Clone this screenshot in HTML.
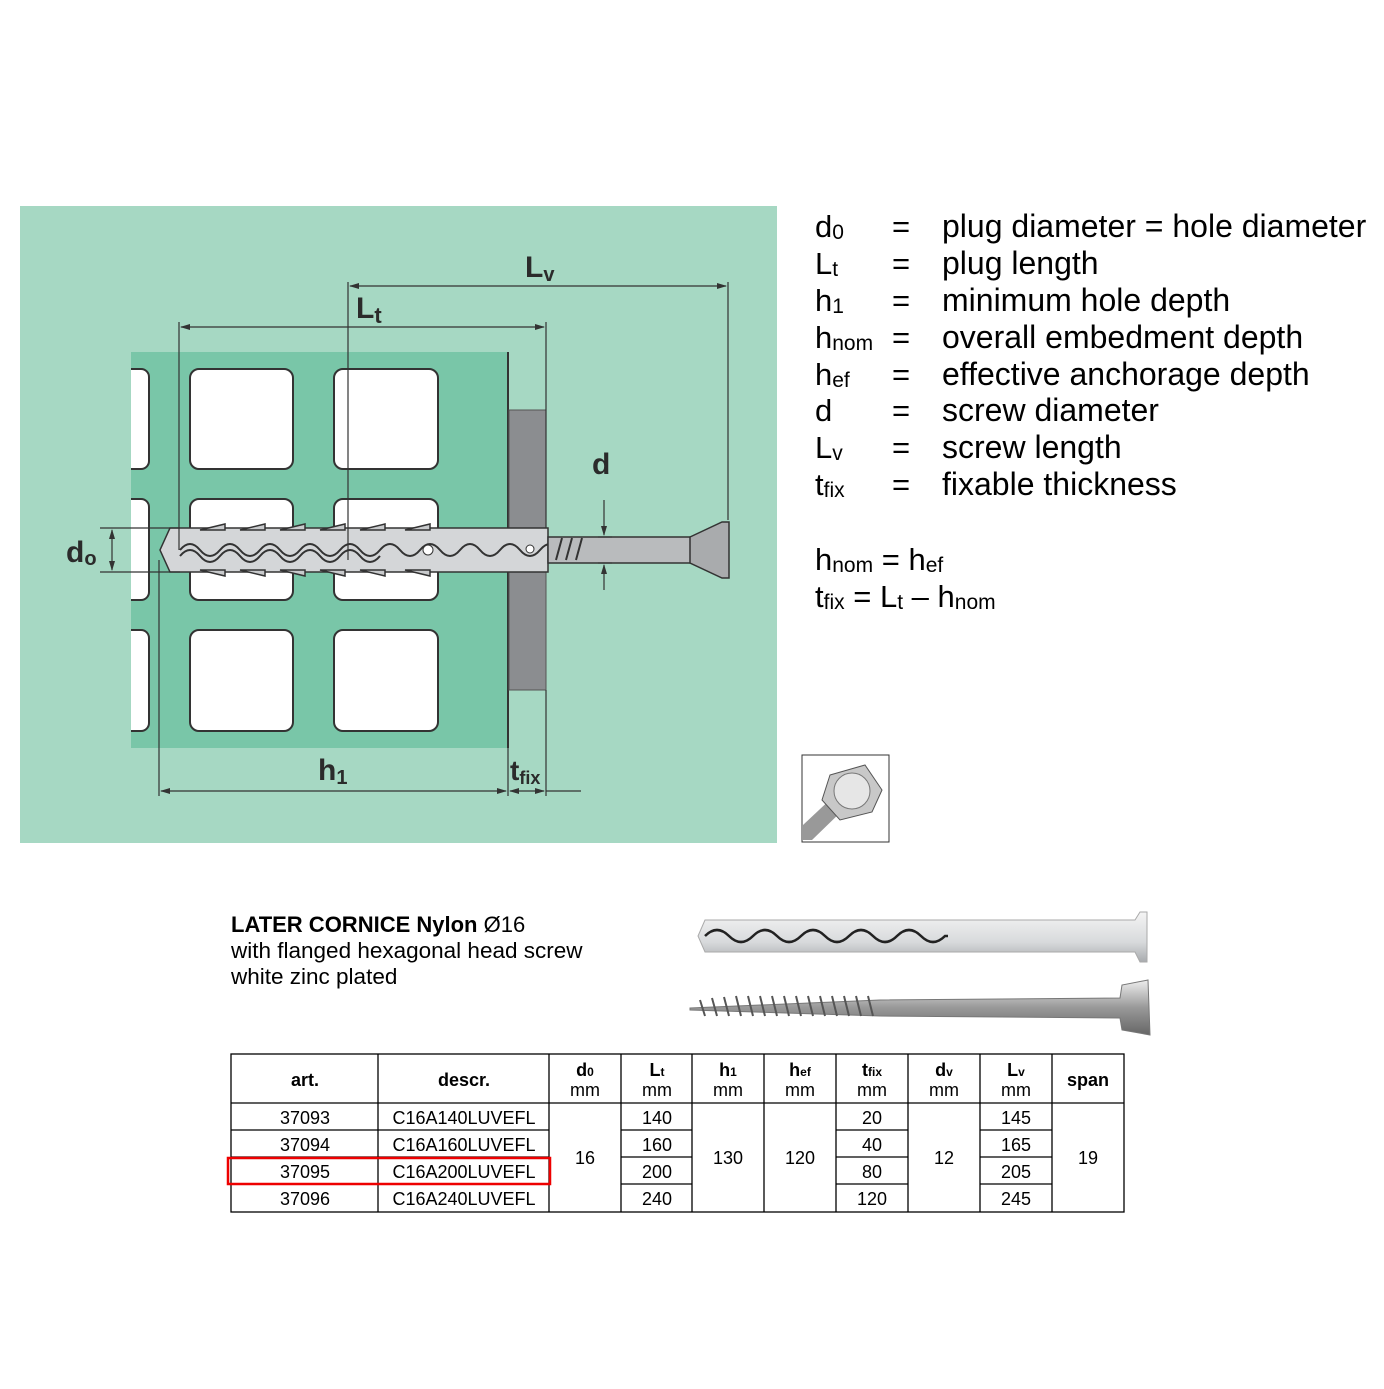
<!DOCTYPE html>
<html><head><meta charset="utf-8"><style>
body{margin:0;background:#fff;width:1384px;height:1384px;overflow:hidden;font-family:"Liberation Sans",sans-serif}
svg text{font-family:"Liberation Sans",sans-serif}
</style></head><body>
<svg width="1384" height="1384" viewBox="0 0 1384 1384" xmlns="http://www.w3.org/2000/svg">
<defs>
<marker id="a" markerWidth="10" markerHeight="8" refX="9" refY="4" orient="auto-start-reverse" markerUnits="userSpaceOnUse"><path d="M0,1 L10,4 L0,7 z" fill="#333"/></marker>
<linearGradient id="sg" x1="0" y1="0" x2="0" y2="1"><stop offset="0" stop-color="#eee"/><stop offset=".5" stop-color="#999"/><stop offset="1" stop-color="#666"/></linearGradient>
<linearGradient id="pg" x1="0" y1="0" x2="0" y2="1"><stop offset="0" stop-color="#f4f4f4"/><stop offset=".6" stop-color="#d8dadc"/><stop offset="1" stop-color="#a8abae"/></linearGradient>
</defs>
<rect x="20" y="206" width="757" height="637" fill="#a6d8c3"/>
<rect x="131" y="352" width="377" height="396" fill="#79c6a8"/>
<g fill="#fff" stroke="#333" stroke-width="2">
<rect x="190" y="369" width="103" height="100" rx="9"/><rect x="334" y="369" width="104" height="100" rx="9"/>
<rect x="190" y="499" width="103" height="101" rx="9"/><rect x="334" y="499" width="104" height="101" rx="9"/>
<rect x="190" y="630" width="103" height="101" rx="9"/><rect x="334" y="630" width="104" height="101" rx="9"/>
<path d="M131,369 h10 a8,8 0 0 1 8,8 v84 a8,8 0 0 1 -8,8 h-10"/>
<path d="M131,499 h10 a8,8 0 0 1 8,8 v85 a8,8 0 0 1 -8,8 h-10"/>
<path d="M131,630 h10 a8,8 0 0 1 8,8 v85 a8,8 0 0 1 -8,8 h-10"/>
</g>
<line x1="508" y1="352" x2="508" y2="748" stroke="#333" stroke-width="2"/>
<rect x="509" y="410" width="37" height="280" fill="#8b8d90" stroke="#555"/>
<path d="M170,528 L548,528 L548,572 L170,572 L160,550 z" fill="#d4d6d8" stroke="#333" stroke-width="1.5"/>
<path d="M180,550 q10,-12 20,0 t20,0 t20,0 t20,0 t20,0 t20,0 t20,0 t20,0 t20,0 t20,0 t20,0 t20,0 t20,0 t20,0 t20,0 t20,0 t20,0 t20,0 t20,0 t20,0" fill="none" stroke="#333" stroke-width="2"/>
<path d="M180,556 q10,-12 20,0 t20,0 t20,0 t20,0 t20,0 t20,0 t20,0 t20,0 t20,0 t20,0" fill="none" stroke="#333" stroke-width="2"/>
<g stroke="#333" stroke-width="1.5" fill="#c8cacc">
<path d="M200,530 l25,-6 v6z"/><path d="M240,530 l25,-6 v6z"/><path d="M280,530 l25,-6 v6z"/><path d="M320,530 l25,-6 v6z"/><path d="M360,530 l25,-6 v6z"/><path d="M405,530 l25,-6 v6z"/>
<path d="M200,570 l25,6 v-6z"/><path d="M240,570 l25,6 v-6z"/><path d="M280,570 l25,6 v-6z"/><path d="M320,570 l25,6 v-6z"/><path d="M360,570 l25,6 v-6z"/><path d="M405,570 l25,6 v-6z"/>
</g>
<circle cx="428" cy="550" r="5" fill="#fff" stroke="#333"/><circle cx="530" cy="549" r="4" fill="#fff" stroke="#333"/>
<rect x="548" y="537" width="175" height="26" fill="#b9bbbd" stroke="#333" stroke-width="1.5"/>
<g stroke="#333" stroke-width="2"><line x1="556" y1="560" x2="562" y2="538"/><line x1="566" y1="560" x2="572" y2="538"/><line x1="576" y1="560" x2="582" y2="538"/></g>
<path d="M690,537 L722,522 L729,522 L729,578 L722,578 L690,563 z" fill="#a9abad" stroke="#333" stroke-width="1.5"/>
<g stroke="#333" stroke-width="1.2" fill="none">
<line x1="348" y1="282" x2="348" y2="560"/><line x1="728" y1="282" x2="728" y2="520"/>
<line x1="350" y1="286" x2="726" y2="286" marker-start="url(#a)" marker-end="url(#a)"/>
<line x1="179" y1="322" x2="179" y2="550"/><line x1="546" y1="322" x2="546" y2="528"/>
<line x1="181" y1="327" x2="544" y2="327" marker-start="url(#a)" marker-end="url(#a)"/>
<line x1="159" y1="560" x2="159" y2="796"/><line x1="508" y1="748" x2="508" y2="796"/><line x1="546" y1="690" x2="546" y2="796"/>
<line x1="161" y1="791" x2="506" y2="791" marker-start="url(#a)" marker-end="url(#a)"/>
<line x1="510" y1="791" x2="544" y2="791" marker-start="url(#a)" marker-end="url(#a)"/>
<line x1="546" y1="791" x2="581" y2="791"/>
<line x1="100" y1="528" x2="180" y2="528"/><line x1="100" y1="572" x2="180" y2="572"/>
<line x1="112" y1="530" x2="112" y2="570" marker-start="url(#a)" marker-end="url(#a)"/>
<line x1="604" y1="500" x2="604" y2="535" marker-end="url(#a)"/><line x1="604" y1="590" x2="604" y2="565" marker-end="url(#a)"/>
<line x1="598" y1="537" x2="612" y2="537"/><line x1="598" y1="563" x2="612" y2="563"/>
</g>
<g fill="#2b2b2b" font-weight="bold" font-size="30">
<text x="525" y="277">L<tspan font-size="20" dy="4">v</tspan></text>
<text x="356" y="318">L<tspan font-size="22" dy="5">t</tspan></text>
<text x="592" y="474">d</text>
<text x="66" y="562">d<tspan font-size="20" dy="3">o</tspan></text>
<text x="318" y="780">h<tspan font-size="20" dy="4">1</tspan></text>
<text x="510" y="780" font-size="28">t<tspan font-size="18" dy="4">fix</tspan></text>
</g>
<g fill="#000" font-size="31">
<text x="815" y="237">d<tspan font-size="21" dy="2">0</tspan></text><text x="892" y="237">=</text><text x="942" y="237" font-size="32">plug diameter = hole diameter</text>
<text x="815" y="274">L<tspan font-size="21" dy="2">t</tspan></text><text x="892" y="274">=</text><text x="942" y="274" font-size="32">plug length</text>
<text x="815" y="311">h<tspan font-size="21" dy="2">1</tspan></text><text x="892" y="311">=</text><text x="942" y="311" font-size="32">minimum hole depth</text>
<text x="815" y="348">h<tspan font-size="21" dy="2">nom</tspan></text><text x="892" y="348">=</text><text x="942" y="348" font-size="32">overall embedment depth</text>
<text x="815" y="385">h<tspan font-size="21" dy="2">ef</tspan></text><text x="892" y="385">=</text><text x="942" y="385" font-size="32">effective anchorage depth</text>
<text x="815" y="421">d</text><text x="892" y="421">=</text><text x="942" y="421" font-size="32">screw diameter</text>
<text x="815" y="458">L<tspan font-size="21" dy="2">v</tspan></text><text x="892" y="458">=</text><text x="942" y="458" font-size="32">screw length</text>
<text x="815" y="495">t<tspan font-size="21" dy="2">fix</tspan></text><text x="892" y="495">=</text><text x="942" y="495" font-size="32">fixable thickness</text>
<text x="815" y="570">h<tspan font-size="21" dy="2">nom</tspan><tspan dy="-2"> = h</tspan><tspan font-size="21" dy="2">ef</tspan></text>
<text x="815" y="607">t<tspan font-size="21" dy="2">fix</tspan><tspan dy="-2"> = L</tspan><tspan font-size="21" dy="2">t</tspan><tspan dy="-2"> – h</tspan><tspan font-size="21" dy="2">nom</tspan></text>
</g>
<rect x="802" y="755" width="87" height="87" fill="#fff" stroke="#333"/>
<path d="M803,825 L835,795 L845,808 L812,840 L803,840z" fill="#999"/>
<polygon points="830,775 865,765 882,790 872,812 840,820 822,800" fill="#c8c8c8" stroke="#555"/>
<circle cx="852" cy="791" r="18" fill="#e6e6e6" stroke="#777"/>
<text x="231" y="932" font-size="22" font-weight="bold">LATER CORNICE Nylon <tspan font-weight="normal">Ø16</tspan></text>
<text x="231" y="958" font-size="22.5">with flanged hexagonal head screw</text>
<text x="231" y="984" font-size="22.5">white zinc plated</text>
<path d="M705,920 L945,920 L1135,920 L1140,912 L1147,912 L1147,962 L1140,962 L1135,952 L705,952 L698,936z" fill="url(#pg)" stroke="#aaa"/>
<path d="M705,936 q12,-12 24,0 t24,0 t24,0 t24,0 t24,0 t24,0 t24,0 t24,0 t24,0 t24,0 L948,936" fill="none" stroke="#222" stroke-width="2.5"/>
<path d="M690,1008 L880,1000 L1120,998 L1122,985 L1148,980 L1150,1035 L1122,1030 L1120,1018 L880,1016 L690,1010z" fill="url(#sg)" stroke="#777"/>
<g stroke="#555" stroke-width="2"><path d="M700,1000 l5,16 M712,998 l5,18 M724,997 l5,19 M736,996 l5,20 M748,996 l5,20 M760,996 l5,20 M772,996 l5,20 M784,996 l5,20 M796,996 l5,20 M808,996 l5,20 M820,996 l5,20 M832,996 l5,20 M844,996 l5,20 M856,996 l5,20 M868,996 l5,20"/></g>
<g stroke="#000" stroke-width="1.3" fill="none">
<rect x="231" y="1054" width="893" height="158"/>
<line x1="231" y1="1103" x2="1124" y2="1103"/>
<line x1="378" y1="1054" x2="378" y2="1212"/><line x1="549" y1="1054" x2="549" y2="1212"/><line x1="621" y1="1054" x2="621" y2="1212"/><line x1="692" y1="1054" x2="692" y2="1212"/><line x1="764" y1="1054" x2="764" y2="1212"/><line x1="836" y1="1054" x2="836" y2="1212"/><line x1="908" y1="1054" x2="908" y2="1212"/><line x1="980" y1="1054" x2="980" y2="1212"/><line x1="1052" y1="1054" x2="1052" y2="1212"/>
<path d="M231,1130 H549 M231,1157 H549 M231,1184 H549"/>
<path d="M621,1130 H692 M621,1157 H692 M621,1184 H692"/>
<path d="M836,1130 H908 M836,1157 H908 M836,1184 H908"/>
<path d="M980,1130 H1052 M980,1157 H1052 M980,1184 H1052"/>
</g>
<rect x="228" y="1158" width="322" height="26" fill="none" stroke="#e00" stroke-width="2.5"/>
<g font-size="18" text-anchor="middle" fill="#000">
<g font-weight="bold"><text x="305" y="1086">art.</text><text x="464" y="1086">descr.</text><text x="1088" y="1086">span</text>
<text x="585" y="1076">d<tspan font-size="12">0</tspan></text><text x="657" y="1076">L<tspan font-size="12">t</tspan></text><text x="728" y="1076">h<tspan font-size="12">1</tspan></text><text x="800" y="1076">h<tspan font-size="12">ef</tspan></text><text x="872" y="1076">t<tspan font-size="12">fix</tspan></text><text x="944" y="1076">d<tspan font-size="12">v</tspan></text><text x="1016" y="1076">L<tspan font-size="12">v</tspan></text></g>
<text x="585" y="1096">mm</text><text x="657" y="1096">mm</text><text x="728" y="1096">mm</text><text x="800" y="1096">mm</text><text x="872" y="1096">mm</text><text x="944" y="1096">mm</text><text x="1016" y="1096">mm</text>
<text x="305" y="1124">37093</text><text x="305" y="1151">37094</text><text x="305" y="1178">37095</text><text x="305" y="1205">37096</text>
<text x="464" y="1124">C16A140LUVEFL</text><text x="464" y="1151">C16A160LUVEFL</text><text x="464" y="1178">C16A200LUVEFL</text><text x="464" y="1205">C16A240LUVEFL</text>
<text x="585" y="1164">16</text><text x="728" y="1164">130</text><text x="800" y="1164">120</text><text x="944" y="1164">12</text><text x="1088" y="1164">19</text>
<text x="657" y="1124">140</text><text x="657" y="1151">160</text><text x="657" y="1178">200</text><text x="657" y="1205">240</text>
<text x="872" y="1124">20</text><text x="872" y="1151">40</text><text x="872" y="1178">80</text><text x="872" y="1205">120</text>
<text x="1016" y="1124">145</text><text x="1016" y="1151">165</text><text x="1016" y="1178">205</text><text x="1016" y="1205">245</text>
</g>
</svg>
</body></html>
